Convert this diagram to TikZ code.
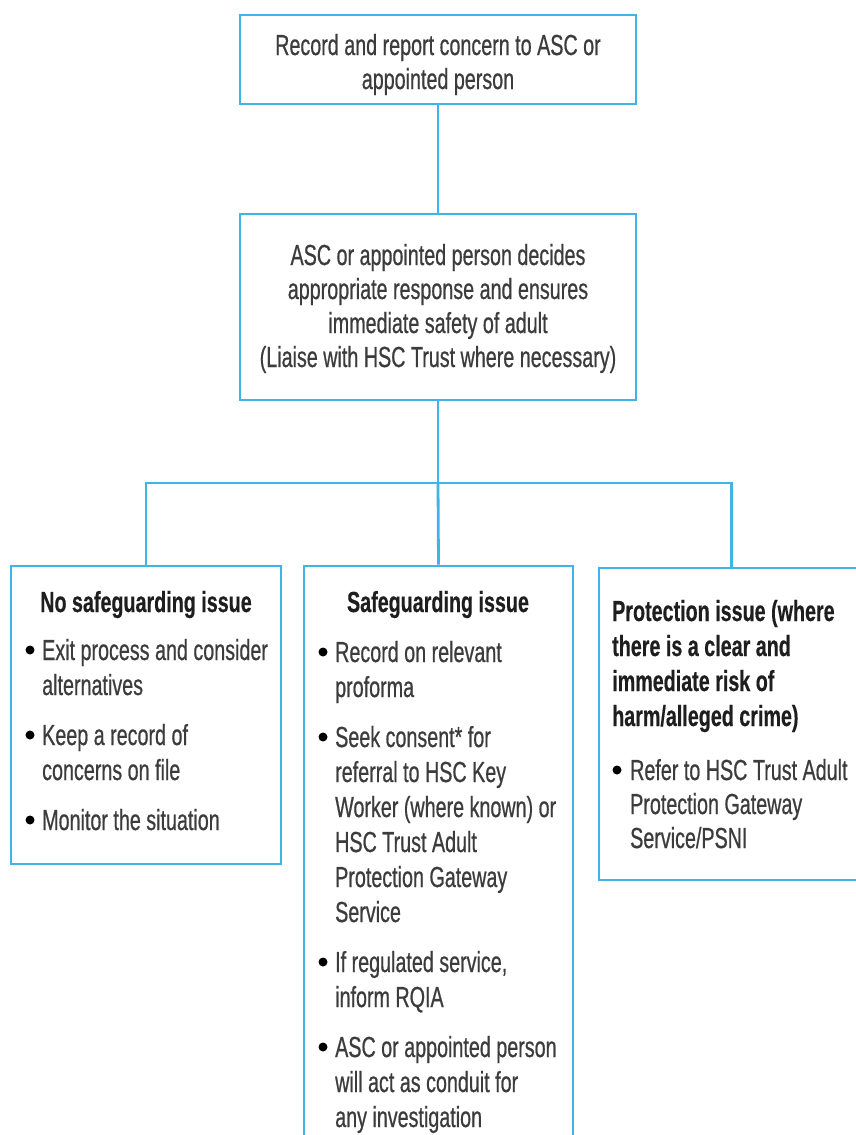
\documentclass[tikz,border=0pt]{standalone}
\usepackage{fontspec}
\setmainfont{Liberation Sans}[FakeStretch=0.68, UprightFeatures={FakeBold=0.6}, BoldFeatures={FakeBold=0.4}]
\definecolor{boxblue}{HTML}{3DB5E6}
\definecolor{txtgray}{HTML}{3C3C3C}
\definecolor{ttlgray}{HTML}{1E1E1E}
\begin{document}
\begin{tikzpicture}[x=1pt,y=-1pt,
  box/.style={draw=boxblue, line width=2.8pt, inner sep=0pt, rectangle},
  conn/.style={draw=boxblue, line width=2.8pt},
  ctr/.style={text=txtgray, inner sep=0pt, align=center, anchor=base, font=\fontsize{29}{34}\selectfont},
  item/.style={text=txtgray, inner sep=0pt, align=left, anchor=base west, font=\fontsize{29}{35}\selectfont},
  ttl/.style={text=ttlgray, inner sep=0pt, font=\bfseries\fontsize{29}{35}\selectfont},
  bul/.style={circle, fill=black, inner sep=0pt, minimum size=9pt}]
\useasboundingbox (0,0) rectangle (855,1135);
\fill[white] (0,0) rectangle (855,1135);

% boxes
\node[box, minimum width=396pt, minimum height=89pt] (top) at (438,59.5) {};
\node[box, minimum width=396pt, minimum height=186pt] (decide) at (438,307) {};
\node[box, minimum width=270pt, minimum height=298pt] (nosafe) at (146,715) {};
\node[box, minimum width=269pt, minimum height=620pt] (safe) at (438.5,876) {};
\node[box, minimum width=265pt, minimum height=312pt] (prot) at (731.5,724) {};

% connectors
\coordinate (bus) at (438,483);
\draw[conn] (top.south) -- (decide.north);
\draw[conn] (decide.south) -- (bus);
\draw[conn] (nosafe.north) |- (bus) -| (prot.north);
\draw[conn] (bus) -- (safe.north);

% texts of top boxes (base = last line)
\node[ctr] (toptxt) at (438,89) {Record and report concern to ASC or\\appointed person};
\node[ctr] (decidetxt) at (438,367) {ASC or appointed person decides\\appropriate response and ensures\\immediate safety of adult\\(Liaise with HSC Trust where necessary)};

% no safeguarding issue
\node[ttl, anchor=base] (t1) at (146,612) {No safeguarding issue};
\node[item] (a1) at (42,695) {Exit process and consider\\alternatives};
\node[item] (a2) at (42,780) {Keep a record of\\concerns on file};
\node[item] (a3) at (42,830) {Monitor the situation};
\node[bul] (b1) at (30,650) {};
\node[bul] (b2) at (30,735) {};
\node[bul] (b3) at (30,820) {};

% safeguarding issue
\node[ttl, anchor=base] (t2) at (438,612) {Safeguarding issue};
\node[item] (s1) at (335,697) {Record on relevant\\proforma};
\node[item] (s2) at (335,922) {Seek consent* for\\referral to HSC Key\\Worker (where known) or\\HSC Trust Adult\\Protection Gateway\\Service};
\node[item] (s3) at (335,1007) {If regulated service,\\inform RQIA};
\node[item] (s4) at (335,1127) {ASC or appointed person\\will act as conduit for\\any investigation};
\node[bul] (c1) at (323,652) {};
\node[bul] (c2) at (323,737) {};
\node[bul] (c3) at (323,962) {};
\node[bul] (c4) at (323,1047) {};

% protection issue
\node[ttl, anchor=base west, align=left] (t3) at (612,726) {Protection issue (where\\there is a clear and\\immediate risk of\\harm/alleged crime)};
\node[item, font=\fontsize{29}{34}\selectfont] (p1) at (630,848) {Refer to HSC Trust Adult\\Protection Gateway\\Service/PSNI};
\node[bul] (d1) at (617,770) {};
\end{tikzpicture}
\end{document}
